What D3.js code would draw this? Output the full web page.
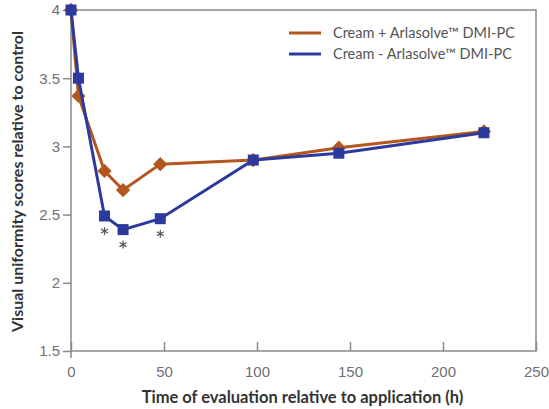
<!DOCTYPE html>
<html>
<head>
<meta charset="utf-8">
<script src="https://cdn.jsdelivr.net/npm/d3@7"></script>
<style>
  body { margin: 0; background: #fff; }
  svg { font-family: "Lato", "Open Sans", sans-serif; }
</style>
</head>
<body>
<svg id="chart" width="549" height="409"></svg>
<script>
const hours = [0, 4, 18, 28, 48, 98, 144, 222];
const withArla = [4, 3.37, 2.82, 2.68, 2.87, 2.9, 2.99, 3.11];
const withoutArla = [4, 3.5, 2.49, 2.39, 2.47, 2.9, 2.95, 3.1];
const signifHours = [18, 28, 48];
const xTicks = [0, 50, 100, 150, 200, 250];
const yTicks = [1.5, 2, 2.5, 3, 3.5, 4];
const seriesNames = ['Cream + Arlasolve\u2122 DMI-PC', 'Cream - Arlasolve\u2122 DMI-PC'];

const orange = '#b5561f';
const blue = '#2b3a9c';
const axisGray = '#8a8a8a';

const svg = d3.select('#chart');
const x = d3.scaleLinear().domain([0, 250]).range([71, 536]);
const y = d3.scaleLinear().domain([1.5, 4]).range([351, 10]);

// frame
svg.append('rect')
  .attr('x', x(0)).attr('y', y(4))
  .attr('width', x(250) - x(0)).attr('height', y(1.5) - y(4))
  .attr('fill', 'none').attr('stroke', axisGray).attr('stroke-width', 1.5);
svg.append('line')
  .attr('x1', x(0)).attr('x2', x(0)).attr('y1', y(1.5)).attr('y2', y(1.5) + 7)
  .attr('stroke', axisGray).attr('stroke-width', 1.5);

const yAxis = svg.append('g')
  .attr('transform', `translate(${x(0)},0)`)
  .call(d3.axisLeft(y).tickValues(yTicks).tickSize(8).tickPadding(3).tickFormat(d3.format('')));
yAxis.select('.domain').remove();
yAxis.selectAll('line').attr('stroke', axisGray).attr('stroke-width', 1.5);
yAxis.selectAll('text').attr('fill', '#707070').attr('font-size', 15);

const xAxis = svg.append('g')
  .attr('transform', `translate(0,${y(1.5)})`)
  .call(d3.axisBottom(x).tickValues(xTicks).tickSizeInner(-9).tickSizeOuter(0).tickPadding(15));
xAxis.select('.domain').remove();
xAxis.selectAll('line').attr('stroke', axisGray).attr('stroke-width', 1.5);
xAxis.selectAll('text').attr('fill', '#707070').attr('font-size', 15);

svg.append('text')
  .attr('x', (x(0) + x(250)) / 2 - 1).attr('y', 403)
  .attr('text-anchor', 'middle').attr('font-weight', 'bold')
  .attr('font-size', 16.5).attr('fill', '#333')
  .text('Time of evaluation relative to application (h)');

svg.append('text')
  .attr('transform', `translate(23,${(y(1.5) + y(4)) / 2 + 1}) rotate(-90)`)
  .attr('text-anchor', 'middle').attr('font-weight', 'bold')
  .attr('font-size', 16).attr('fill', '#333')
  .text('Visual uniformity scores relative to control');

const line = d3.line().x((d, i) => x(hours[i])).y(d => y(d));

// orange series (diamonds)
svg.append('path').datum(withArla)
  .attr('d', line).attr('fill', 'none').attr('stroke', orange).attr('stroke-width', 3);
svg.selectAll('.dia').data(withArla).enter().append('path')
  .attr('class', 'dia')
  .attr('d', d3.symbol(d3.symbolDiamond2, 130))
  .attr('transform', (d, i) => `translate(${x(hours[i])},${y(d)})`)
  .attr('fill', orange);

// blue series (squares)
svg.append('path').datum(withoutArla)
  .attr('d', line).attr('fill', 'none').attr('stroke', blue).attr('stroke-width', 3);
svg.selectAll('.sq').data(withoutArla).enter().append('rect')
  .attr('class', 'sq')
  .attr('x', (d, i) => x(hours[i]) - 5.5).attr('y', d => y(d) - 5.5)
  .attr('width', 11).attr('height', 11)
  .attr('fill', blue);

// significance marks
svg.selectAll('.star').data(signifHours).enter().append('path')
  .attr('class', 'star')
  .attr('d', d3.symbol(d3.symbolAsterisk, 45))
  .attr('transform', d => `translate(${x(d)},${y(withoutArla[hours.indexOf(d)]) + 15})`)
  .attr('fill', 'none').attr('stroke', '#555').attr('stroke-width', 1.2);

// legend
const legendColors = [orange, blue];
const leg = svg.selectAll('.leg').data(seriesNames).enter().append('g')
  .attr('transform', (d, i) => `translate(289,${33 + i * 21})`);
leg.append('line').attr('x1', 0).attr('x2', 32).attr('y1', 0).attr('y2', 0)
  .attr('stroke', (d, i) => legendColors[i]).attr('stroke-width', 3);
leg.append('text').attr('x', 44).attr('y', 5)
  .attr('font-size', 14.5).attr('fill', '#555')
  .text(d => d);
</script>
</body>
</html>
